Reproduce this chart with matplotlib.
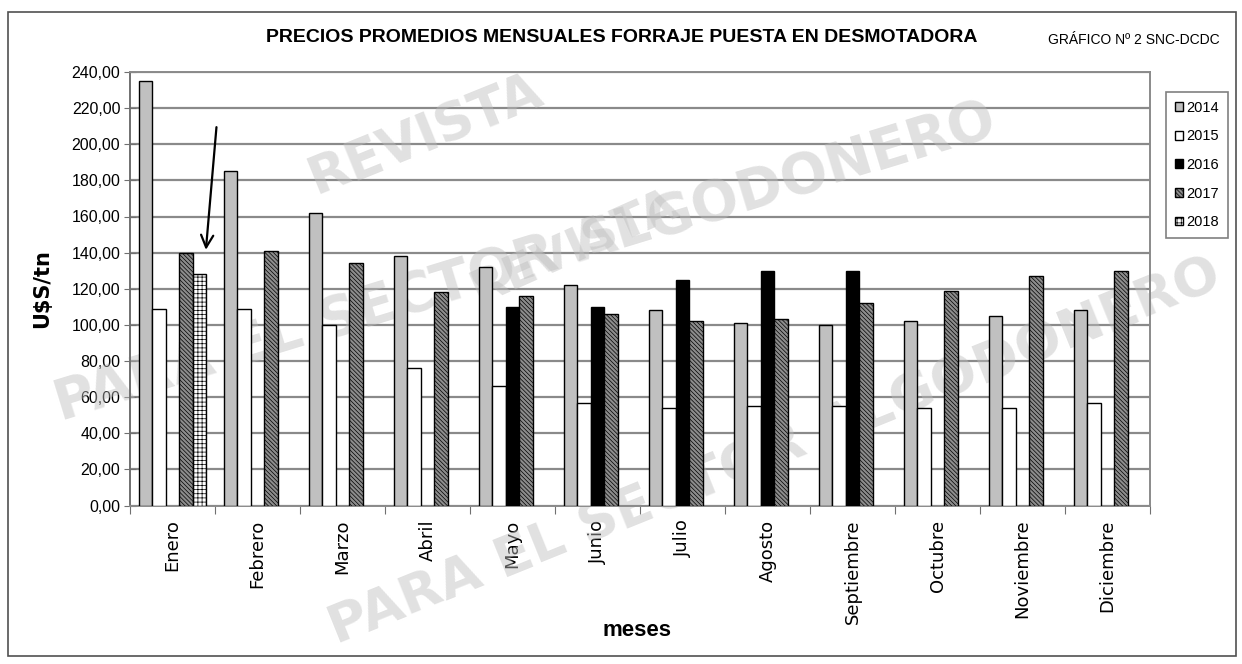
import numpy as np
import matplotlib
matplotlib.use("Agg")
import matplotlib.pyplot as plt
from matplotlib.patches import Rectangle

NARROW = ["Liberation Sans Narrow", "Liberation Sans"]

months = ["Enero", "Febrero", "Marzo", "Abril", "Mayo", "Junio", "Julio",
          "Agosto", "Septiembre", "Octubre", "Noviembre", "Diciembre"]
years = ["2014", "2015", "2016", "2017", "2018"]
v2014 = [235, 185, 162, 138, 132, 122, 108, 101, 100, 102, 105, 108]
v2015 = [109, 109, 100, 76, 66, 57, 54, 55, 55, 54, 54, 57]
v2016 = [None, None, None, None, 110, 110, 125, 130, 130, None, None, None]
v2017 = [140, 141, 134, 118, 116, 106, 102, 103, 112, 119, 127, 130]
v2018 = [128, None, None, None, None, None, None, None, None, None, None, None]
yticks = list(range(0, 241, 20))

series = [v2014, v2015, v2016, v2017, v2018]
styles = [
    dict(facecolor="#c0c0c0", edgecolor="black", hatch=None),
    dict(facecolor="white", edgecolor="black", hatch=None),
    dict(facecolor="black", edgecolor="black", hatch=None),
    dict(facecolor="#8c8c8c", edgecolor="black", hatch="\\\\\\\\\\\\\\\\"),
    dict(facecolor="white", edgecolor="black", hatch="++++"),
]

plt.rcParams["hatch.linewidth"] = 0.5

fig = plt.figure(figsize=(12.42, 6.64), dpi=100)
ax = fig.add_axes([130 / 1242, (664 - 505.5) / 664, 1020 / 1242, 433.5 / 664])

n = len(months)
w = 0.157
x = np.arange(n) + 0.5
handles = []
for k, (vals, st) in enumerate(zip(series, styles)):
    xs = [x[i] + (k - 2) * w for i in range(n) if vals[i] is not None]
    hs = [vals[i] for i in range(n) if vals[i] is not None]
    b = ax.bar(xs, hs, width=w, linewidth=1.0, zorder=3, label=years[k], **st)
    handles.append(b)

ax.set_xlim(0, n)
ax.set_ylim(0, 240)
ax.set_yticks(yticks)
ax.set_yticklabels([f"{t:.2f}".replace(".", ",") for t in yticks],
                   fontsize=11.5, family="Liberation Sans")
ax.set_xticks(np.arange(n + 1))
ax.set_xticklabels([])
ax.set_xticks(x, minor=True)
ax.set_xticklabels(months, minor=True, rotation=90, fontsize=13,
                   family="DejaVu Sans", va="top", ha="center")
ax.tick_params(axis="x", which="minor", length=0, pad=10)
ax.tick_params(axis="x", which="major", direction="out", length=6, color="#707070")
ax.tick_params(axis="y", direction="inout", length=8, color="#707070", pad=3)
ax.grid(axis="y", color="#8a8a8a", linewidth=1.6, zorder=1)
ax.set_axisbelow(True)
for s in ax.spines.values():
    s.set_color("#8a8a8a")
    s.set_linewidth(1.4)
ax.spines["left"].set_color("#707070")

ax.set_ylabel("U$S/tn", fontsize=15, fontweight="bold", family="DejaVu Sans", labelpad=14)
fig.text(637 / 1242, 1 - 630 / 664, "meses", fontsize=16, fontweight="bold",
         family=NARROW, ha="center", va="center")

fig.text(622 / 1242, 1 - 38 / 664,
         "PRECIOS PROMEDIOS MENSUALES FORRAJE PUESTA EN DESMOTADORA",
         fontsize=14, fontweight="bold", family=NARROW, ha="center", va="center")
fig.text(1134 / 1242, 1 - 40 / 664, "GRÁFICO Nº 2 SNC-DCDC", fontsize=10,
         family=NARROW, ha="center", va="center")

# arrow pointing at 2018
ax.annotate("", xy=(0.89, 140), xytext=(1.02, 211),
            arrowprops=dict(arrowstyle="->", lw=1.6, color="black", mutation_scale=22),
            zorder=5)

# watermark (translucent, behind bars)
wm = dict(color="#bdbdbd", alpha=0.45, fontweight="bold", family="DejaVu Sans",
          ha="center", va="center", zorder=2, transform=fig.transFigure, clip_on=False)
ax.text(425 / 1242, 1 - 135 / 664, "REVISTA", fontsize=38, rotation=22, **wm)
ax.text(525 / 1242, 1 - 262 / 664, "PARA EL SECTOR ALGODONERO", fontsize=40, rotation=17, **wm)
ax.text(575 / 1242, 1 - 248 / 664, "REVISTA", fontsize=34, rotation=24, **wm)
ax.text(775 / 1242, 1 - 452 / 664, "PARA EL SECTOR ALGODONERO", fontsize=39, rotation=22, **wm)

leg = fig.legend(handles=handles, labels=years, loc="upper left",
                 bbox_to_anchor=(1166 / 1242, 1 - 92 / 664), bbox_transform=fig.transFigure,
                 prop=dict(family=NARROW, size=10.5), handlelength=0.55, handleheight=0.55,
                 handletextpad=0.25, labelspacing=1.0, borderpad=0.6, borderaxespad=0,
                 fancybox=False, edgecolor="#808080", framealpha=1)
leg.get_frame().set_linewidth(1.2)

fig.patches.append(Rectangle((8 / 1242, 1 - 656 / 664), 1228 / 1242, 644 / 664,
                             transform=fig.transFigure, fill=False,
                             edgecolor="#505050", linewidth=1.2))

fig.savefig("out.png", dpi=100)
